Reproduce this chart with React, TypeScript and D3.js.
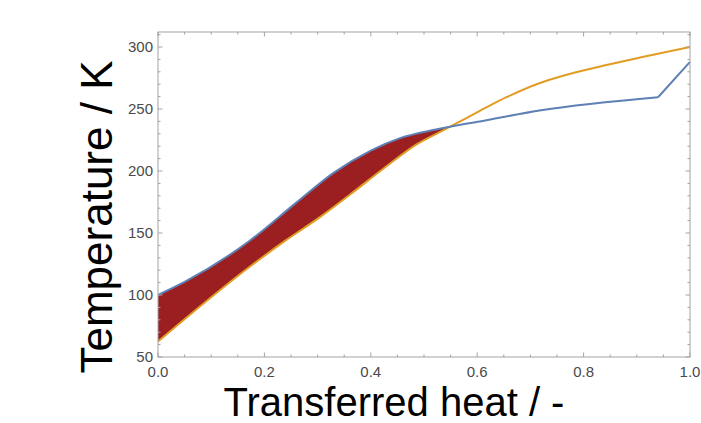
import React from "react";
import * as d3 from "d3";

// blue curve (upper at the left end)
const hotX = [0, 0.05, 0.173, 0.26, 0.33, 0.4, 0.455, 0.517, 0.549, 0.605, 0.72, 0.94, 1.0];
const hotT = [100, 110.5, 144, 174.5, 198.5, 216.5, 226.5, 233, 235.7, 240, 249, 259.5, 288];

// orange curve
const coldX = [0, 0.173, 0.24, 0.305, 0.361, 0.424, 0.486, 0.536, 0.549, 0.605, 0.655, 0.718, 0.78, 0.843, 0.906, 1.0];
const coldT = [62.5, 123, 144, 163, 181, 202, 221.5, 232.8, 235.7, 248.5, 259.5, 271, 279, 285.5, 291.5, 300];

const xTicks = [0, 0.2, 0.4, 0.6, 0.8, 1.0];
const yTicks = [50, 100, 150, 200, 250, 300];

const W = 701;
const H = 423;
const margin = { left: 158, right: 11, top: 32, bottom: 66 };

type P = [number, number];

export default function App() {
  const x = d3.scaleLinear().domain([0, 1]).range([margin.left, W - margin.right]);
  const y = d3
    .scaleLinear()
    .domain([50, 50 + (H - margin.bottom - margin.top) / 1.24])
    .range([H - margin.bottom, margin.top]);

  const hot: P[] = hotX.map((v, i) => [v, hotT[i]]);
  const cold: P[] = coldX.map((v, i) => [v, coldT[i]]);
  // the blue line has a sharp corner at its last-but-one point
  const hotSmooth = hot.slice(0, -1);
  const hotTail = hot.slice(-2);

  const x0 = margin.left, x1 = W - margin.right, y0 = H - margin.bottom, y1 = margin.top;

  const smooth = d3.line<P>().x((d) => x(d[0])).y((d) => y(d[1])).curve(d3.curveMonotoneX);
  const straight = d3.line<P>().x((d) => x(d[0])).y((d) => y(d[1]));

  // band between the curves: area under blue, clipped to the region above orange
  const underHot = d3.area<P>().x((d) => x(d[0])).y0(y0).y1((d) => y(d[1])).curve(d3.curveMonotoneX);
  const aboveCold = d3.area<P>().x((d) => x(d[0])).y0((d) => y(d[1])).y1(y1).curve(d3.curveMonotoneX);

  const xMinor = d3.range(0, 1.0001, 0.05);
  const yMinor = d3.range(50, y.domain()[1], 10);
  const frame = "#a3a3a3";

  return (
    <svg
      width={W}
      height={H}
      style={{ position: "absolute", left: 0, top: 0, fontFamily: "Liberation Sans, Arial, sans-serif" }}
    >
      <defs>
        <clipPath id="aboveCold">
          <path d={aboveCold(cold) ?? ""} />
        </clipPath>
      </defs>
      <rect width={W} height={H} fill="white" />
      <path d={underHot(hotSmooth) ?? ""} fill="#9b1e20" clipPath="url(#aboveCold)" />
      <path d={smooth(cold) ?? ""} fill="none" stroke="#e19c24" strokeWidth={2} />
      <path d={smooth(hotSmooth) ?? ""} fill="none" stroke="#5e81b5" strokeWidth={2} />
      <path d={straight(hotTail) ?? ""} fill="none" stroke="#5e81b5" strokeWidth={2} />

      <g stroke={frame} strokeWidth={1}>
        <rect x={x0} y={y1} width={x1 - x0} height={y0 - y1} fill="none" />
        {xMinor.map((v, i) => {
          const len = i % 4 === 0 ? 4.5 : 2.5;
          return (
            <g key={"xm" + i}>
              <line x1={x(v)} x2={x(v)} y1={y0} y2={y0 - len} />
              <line x1={x(v)} x2={x(v)} y1={y1} y2={y1 + len} />
            </g>
          );
        })}
        {yMinor.map((v, i) => {
          const len = i % 5 === 0 ? 4.5 : 2.5;
          return (
            <g key={"ym" + i}>
              <line x1={x0} x2={x0 + len} y1={y(v)} y2={y(v)} />
              <line x1={x1} x2={x1 - len} y1={y(v)} y2={y(v)} />
            </g>
          );
        })}
      </g>

      <g fill="#4a4a4a" fontSize={15}>
        {xTicks.map((v) => (
          <text key={"xt" + v} x={x(v)} y={y0 + 20} textAnchor="middle">
            {v.toFixed(1)}
          </text>
        ))}
        {yTicks.map((v) => (
          <text key={"yt" + v} x={x0 - 5} y={y(v) + 5} textAnchor="end">
            {v}
          </text>
        ))}
      </g>

      <text x={(x0 + x1) / 2 - 30} y={416} textAnchor="middle" fontSize={40} fill="#000">
        Transferred heat / -
      </text>
      <text transform={`translate(112, 217) rotate(-90)`} textAnchor="middle" fontSize={44} fill="#000">
        Temperature / K
      </text>
    </svg>
  );
}
